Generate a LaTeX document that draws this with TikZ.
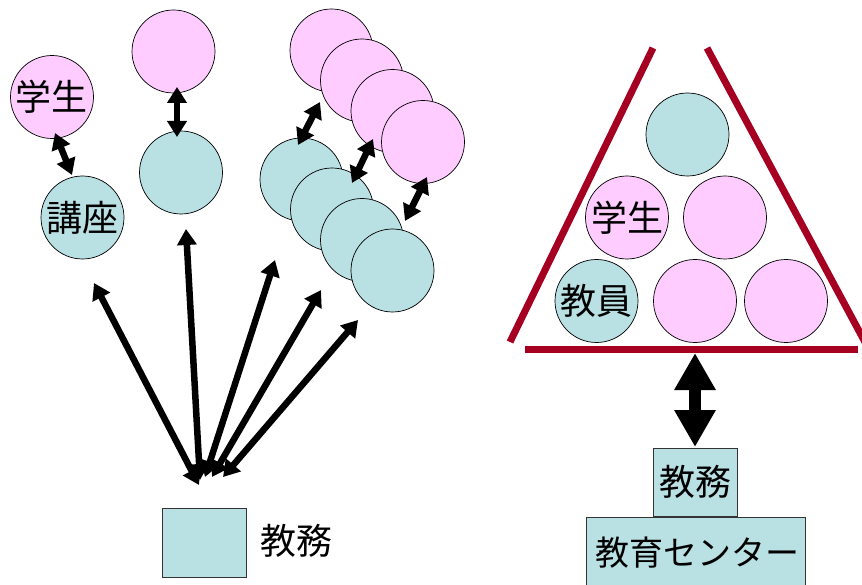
\documentclass[tikz,border=0pt]{standalone}
\usepackage{fontspec}
\newfontfamily\jp{Noto Sans CJK JP}
\usetikzlibrary{arrows.meta}
\definecolor{tealc}{RGB}{185,224,227}
\definecolor{pinkc}{RGB}{255,204,255}
\definecolor{redc}{RGB}{165,0,33}
\begin{document}
\begin{tikzpicture}[x=1pt,y=-1pt,
  tealcirc/.style={circle,draw=black,line width=0.7pt,fill=tealc,minimum size=83pt,inner sep=0pt,font=\jp\fontsize{36}{36}\selectfont},
  pinkcirc/.style={circle,draw=black,line width=0.7pt,fill=pinkc,minimum size=83pt,inner sep=0pt,font=\jp\fontsize{36}{36}\selectfont},
  box/.style={draw=black!80,line width=0.8pt,fill=tealc,inner sep=0pt,font=\jp\fontsize{36}{36}\selectfont},
  lbl/.style={font=\jp\fontsize{36}{36}\selectfont,inner sep=0pt},
  arr/.style={line width=6.5pt,{Triangle[width=19pt,length=16pt]}-{Triangle[width=19pt,length=16pt]}},
  redline/.style={draw=redc,line width=7pt}
]
\useasboundingbox (0,0) rectangle (862,585);

% left group
\node[pinkcirc] (s1) at (52,97) {学生};
\node[tealcirc] (k1) at (82.5,217.5) {講座};
\coordinate (a0s) at (55,133);
\coordinate (a0e) at (72,175);
\draw[arr] (a0s) -- (a0e);

\node[pinkcirc] (s2) at (173.5,51.5) {};
\node[tealcirc] (k2) at (181,172.5) {};
\coordinate (b0s) at (177,87);
\coordinate (b0e) at (177,137);
\draw[arr] (b0s) -- (b0e);

% stacked group
\node[pinkcirc] (p1) at (331.5,50.5) {};
\node[pinkcirc] (p2) at (362,80.5) {};
\node[pinkcirc] (p3) at (392.5,111) {};
\node[pinkcirc] (p4) at (423,142) {};
\node[tealcirc] (t1) at (301.5,179.5) {};
\node[tealcirc] (t2) at (332,209.5) {};
\node[tealcirc] (t3) at (362,240) {};
\node[tealcirc] (t4) at (392.5,270.5) {};
\coordinate (c1s) at (320,102);
\coordinate (c1e) at (298,145);
\coordinate (c2s) at (373,139);
\coordinate (c2e) at (352,183);
\coordinate (c3s) at (427,177);
\coordinate (c3e) at (405,221);
\draw[arr] (c1s) -- (c1e);
\draw[arr] (c2s) -- (c2e);
\draw[arr] (c3s) -- (c3e);

% 教務 square and fan
\node[box,minimum width=84pt,minimum height=69pt] (sq) at (204,542.5) {};
\node[lbl,anchor=west] (sqlbl) at (260,541) {教務};
\coordinate (fA) at (94,283);
\coordinate (fB) at (186,229);
\coordinate (fC) at (275,260);
\coordinate (fD) at (321,290);
\coordinate (fE) at (358,320);
\coordinate (gA) at (199,485);
\coordinate (gB) at (200,480);
\coordinate (gC) at (205,477);
\coordinate (gD) at (212,477);
\coordinate (gE) at (223,477);
\draw[arr] (gA) -- (fA);
\draw[arr] (gB) -- (fB);
\draw[arr] (gC) -- (fC);
\draw[arr] (gD) -- (fD);
\draw[arr] (gE) -- (fE);

% right triangle
\coordinate (l1) at (653,48);
\coordinate (l2) at (510,342);
\coordinate (r1) at (707,48);
\coordinate (r2) at (866,344);
\coordinate (b1) at (525,349);
\coordinate (b2) at (858,349);
\draw[redline] (l1) -- (l2);
\draw[redline] (r1) -- (r2);
\draw[redline] (b1) -- (b2);

\node[tealcirc] (q1) at (687.5,134.5) {};
\node[pinkcirc] (q2) at (627,217.5) {学生};
\node[pinkcirc] (q3) at (725,217.5) {};
\node[tealcirc] (q4) at (596.5,301) {教員};
\node[pinkcirc] (q5) at (695,301) {};
\node[pinkcirc] (q6) at (786,301) {};

% boxes
\node[box,minimum width=84pt,minimum height=68pt] (jm) at (695,482) {教務};
\node[box,minimum width=219pt,minimum height=80pt,anchor=north] (ec) at (695.5,517) {};
\node[lbl,font=\jp\fontsize{34}{34}\selectfont] (ectxt) at (697,553) {教育センター};

% big arrow
\coordinate (ba1) at (695,353);
\coordinate (ba2) at (695,447);
\draw[line width=12pt,{Triangle[width=39pt,length=37pt]}-{Triangle[width=39pt,length=37pt]}] (ba1) -- (ba2);
\end{tikzpicture}
\end{document}
